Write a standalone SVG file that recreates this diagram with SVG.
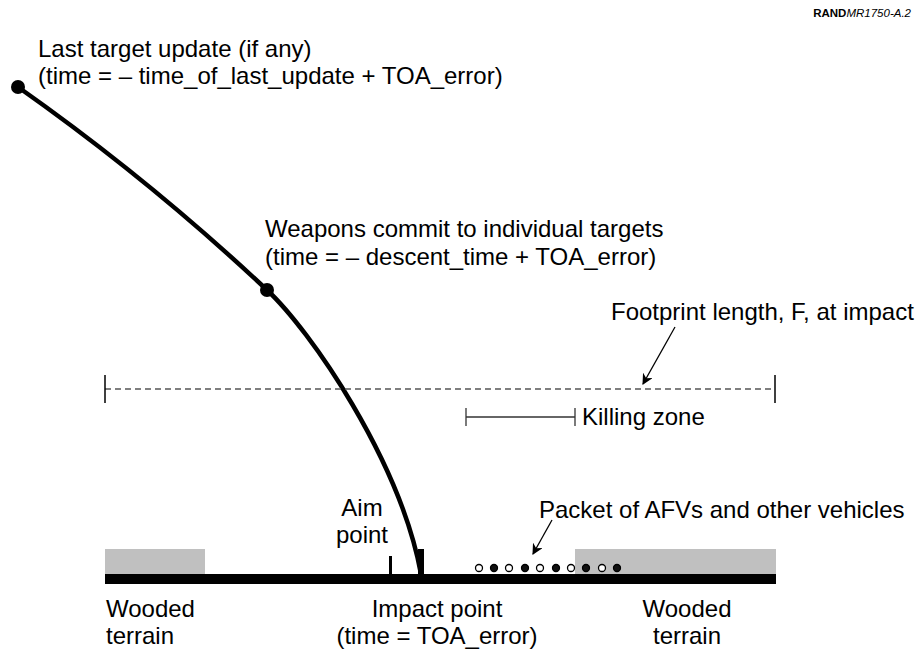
<svg xmlns="http://www.w3.org/2000/svg" width="921" height="651" viewBox="0 0 921 651">
  <style>
    text { font-family: "Liberation Sans", Arial, sans-serif; font-size: 24px; fill: #000; }
    .mid { text-anchor: middle; }
    .tag { font-size: 11.5px; }
    .trajectory { fill: none; stroke: #000; stroke-width: 4.5; stroke-linecap: round; stroke-linejoin: round; }
    .footprint { stroke: #555; stroke-width: 1.5; stroke-dasharray: 6 4; fill: none; }
    .tick { stroke: #000; stroke-width: 1.5; }
    .thin { stroke: #333; stroke-width: 1.3; fill: none; }
    .pointer { stroke: #000; stroke-width: 1.3; fill: none; marker-end: url(#head); }
    .woods { fill: #c0c0c0; }
    .veh-open { fill: #fff; stroke: #000; stroke-width: 1.3; }
    .veh-full { fill: #111; stroke: #000; stroke-width: 1.3; }
  </style>
  <defs>
    <marker id="head" viewBox="0 0 10 10" refX="9" refY="5" markerWidth="11" markerHeight="11" markerUnits="userSpaceOnUse" orient="auto">
      <path d="M0,0 L10,5 L0,10 L3,5 Z" fill="#000"/>
    </marker>
  </defs>

  <!-- figure tag -->
  <text x="911" y="17" class="tag" text-anchor="end"><tspan font-weight="bold">RAND</tspan><tspan font-style="italic">MR1750-A.2</tspan></text>

  <!-- ground with wooded terrain -->
  <g id="terrain">
    <rect class="woods" x="105" y="549" width="100" height="25"/>
    <rect class="woods" x="575" y="549" width="201" height="25"/>
    <rect x="105" y="574" width="671" height="10" fill="#000"/>
  </g>

  <!-- connectors -->
  <g id="connectors">
    <!-- weapon trajectory -->
    <path class="trajectory" d="M18,87 Q150,180 267,290 C310,330 400,460 421,574"/>
    <!-- footprint extent -->
    <line class="footprint" x1="105" y1="389" x2="775" y2="389"/>
    <line class="tick" x1="105" y1="375" x2="105" y2="403"/>
    <line class="tick" x1="775" y1="375" x2="775" y2="403"/>
    <!-- killing zone extent -->
    <line class="thin" x1="466" y1="417" x2="575" y2="417"/>
    <line class="thin" x1="466" y1="408" x2="466" y2="426"/>
    <line class="thin" x1="575" y1="408" x2="575" y2="426"/>
    <!-- label pointers -->
    <line class="pointer" x1="675" y1="327" x2="643" y2="384"/>
    <line class="pointer" x1="552" y1="520" x2="533" y2="554"/>
  </g>

  <g id="last-update">
    <circle cx="18" cy="87" r="7" fill="#000"/>
    <text x="38" y="57">Last target update (if any)</text>
    <text x="38" y="84">(time = – time_of_last_update + TOA_error)</text>
  </g>

  <g id="commit">
    <circle cx="267" cy="290" r="7" fill="#000"/>
    <text x="265" y="237">Weapons commit to individual targets</text>
    <text x="265" y="265">(time = – descent_time + TOA_error)</text>
  </g>

  <g id="footprint-label">
    <text x="611" y="320">Footprint length, F, at impact</text>
  </g>

  <g id="killing-zone">
    <text x="582" y="425">Killing zone</text>
  </g>

  <g id="packet">
    <text x="539" y="518">Packet of AFVs and other vehicles</text>
    <circle class="veh-open" cx="479" cy="568" r="3.5"/>
    <circle class="veh-full" cx="494" cy="568" r="3.5"/>
    <circle class="veh-open" cx="509" cy="568" r="3.5"/>
    <circle class="veh-full" cx="525" cy="568" r="3.5"/>
    <circle class="veh-open" cx="540" cy="568" r="3.5"/>
    <circle class="veh-full" cx="556" cy="568" r="3.5"/>
    <circle class="veh-open" cx="571" cy="568" r="3.5"/>
    <circle class="veh-full" cx="586" cy="568" r="3.5"/>
    <circle class="veh-open" cx="602" cy="568" r="3.5"/>
    <circle class="veh-full" cx="617" cy="568" r="3.5"/>
  </g>

  <g id="aim-point">
    <rect x="389" y="556" width="3" height="18" fill="#000"/>
    <text x="362" y="516" class="mid">Aim</text>
    <text x="362" y="543" class="mid">point</text>
  </g>

  <g id="impact-point">
    <rect x="418" y="549" width="6" height="25" fill="#000"/>
    <text x="437" y="617" class="mid">Impact point</text>
    <text x="437" y="644" class="mid">(time = TOA_error)</text>
  </g>

  <g id="woods-left">
    <text x="106" y="617">Wooded</text>
    <text x="106" y="644">terrain</text>
  </g>

  <g id="woods-right">
    <text x="687" y="617" class="mid">Wooded</text>
    <text x="687" y="644" class="mid">terrain</text>
  </g>
</svg>
